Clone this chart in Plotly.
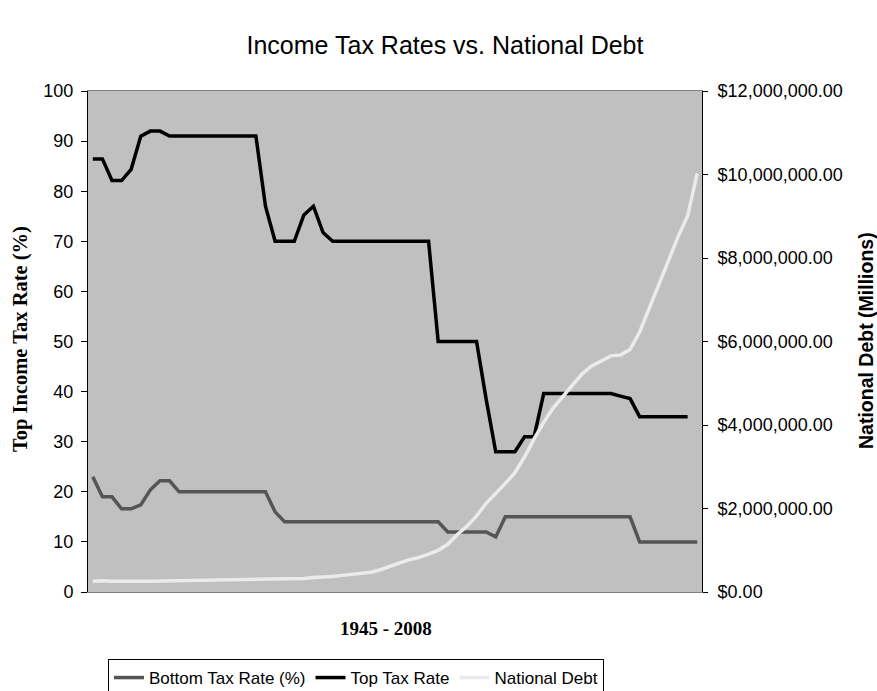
import plotly.graph_objects as go

years = [str(y) for y in range(1945, 2009)]

bottom_rate = [23, 19, 19, 16.6, 16.6, 17.4, 20.4, 22.2, 22.2,
               20, 20, 20, 20, 20, 20, 20, 20, 20, 20,
               16,
               14, 14, 14, 14, 14, 14, 14, 14, 14, 14, 14, 14, 14, 14, 14, 14, 14,
               12, 12, 12, 12, 12,
               11,
               15, 15, 15, 15, 15, 15, 15, 15, 15, 15, 15, 15, 15, 15,
               10, 10, 10, 10, 10, 10, 10]

top_rate = [86.45, 86.45, 82.13, 82.13, 84.36, 91, 92, 92,
            91, 91, 91, 91, 91, 91, 91, 91, 91, 91,
            77, 70, 70, 70, 75.25, 77, 71.75,
            70, 70, 70, 70, 70, 70, 70, 70, 70, 70, 70,
            50, 50, 50, 50, 50,
            38.5, 28, 28, 28, 31, 31,
            39.6, 39.6, 39.6, 39.6, 39.6, 39.6, 39.6, 39.6,
            39.1, 38.6,
            35, 35, 35, 35, 35, 35]

national_debt = [258682, 269422, 258286, 252292, 252770, 257357, 255222, 259105,
                 266071, 271260, 274374, 272751, 270527, 276343, 284706, 286331,
                 288971, 298201, 305860, 311713, 317274, 319907, 326221, 347578,
                 353720, 370919, 398130, 427260, 458142, 475060, 533189, 620433,
                 698840, 771544, 826519, 907701, 997855, 1142034, 1377210, 1572266,
                 1823103, 2125302, 2350277, 2602338, 2857431, 3233313, 3665303, 4064621,
                 4411489, 4692750, 4973983, 5224811, 5413146, 5526193, 5656271, 5674178,
                 5807463, 6228236, 6783231, 7379053, 7932710, 8506974, 9007653, 10024725]

W, H = 877, 691
PL, PR, PT, PB = 88, 702, 91, 592  # plot area in page pixels
ML, MR, MT, MB = PL, W - PR, PT, H - PB
PW, PH = PR - PL, PB - PT


def cx(px):
    return px / W


def cy(py):
    return 1 - py / H


def px_(px):
    return (px - PL) / PW


def py_(py):
    return (PB - py) / PH


fig = go.Figure()
fig.add_trace(go.Scatter(x=years, y=bottom_rate, name="Bottom Tax Rate (%)", mode="lines",
                         line=dict(color="#555555", width=3.5)))
fig.add_trace(go.Scatter(x=years[:len(top_rate)], y=top_rate, name="Top Tax Rate", mode="lines",
                         line=dict(color="#000000", width=3.5)))
fig.add_trace(go.Scatter(x=years, y=national_debt, name="National Debt", mode="lines",
                         line=dict(color="#EBEBEB", width=3.5), yaxis="y2"))

tick_font = dict(family="Liberation Sans, Arial", size=18, color="#000000")

fig.update_layout(
    width=W, height=H,
    margin=dict(l=ML, r=MR, t=MT, b=MB),
    paper_bgcolor="white", plot_bgcolor="#C0C0C0",
    title=dict(text="Income Tax Rates vs. National Debt", x=cx(445), xanchor="center",
               y=cy(45), yanchor="middle",
               font=dict(family="Liberation Sans, Arial", size=25, color="#000000")),
    xaxis=dict(type="category", range=[-0.5, 63.5], showticklabels=False, ticks="",
               showgrid=False, showline=True, linecolor="#808080", linewidth=1, mirror=True,
               zeroline=False, automargin=False),
    yaxis=dict(range=[0, 100], dtick=10, ticks="outside", ticklen=6, tickcolor="#000000",
               showgrid=False, showline=True, linecolor="#000000", linewidth=1,
               zeroline=False, tickfont=tick_font, automargin=False, ticklabelstandoff=4),
    yaxis2=dict(range=[0, 12000000], dtick=2000000, overlaying="y", side="right",
                tickformat="$,.2f", ticks="outside", ticklen=5, tickcolor="#000000",
                showgrid=False, showline=True, linecolor="#000000", linewidth=1,
                zeroline=False, tickfont=tick_font, automargin=False, ticklabelstandoff=6),
    showlegend=True,
    legend=dict(orientation="h", x=cx(356), xanchor="center", xref="container",
                y=cy(659), yanchor="top", yref="container",
                bordercolor="#000000", borderwidth=1, bgcolor="white",
                font=dict(family="Liberation Sans, Arial", size=17, color="#000000"),
                itemwidth=30, tracegroupgap=0, traceorder="normal"),
    annotations=[
        dict(text="<b>1945 - 2008</b>", xref="paper", yref="paper", x=px_(386), y=py_(628),
             xanchor="center", yanchor="middle", showarrow=False,
             font=dict(family="Liberation Serif, Times New Roman", size=19, color="#000000")),
        dict(text="<b>Top Income Tax Rate (%)</b>", xref="paper", yref="paper",
             x=px_(20), y=py_(339), xanchor="center", yanchor="middle",
             textangle=-90, showarrow=False,
             font=dict(family="Liberation Serif, Times New Roman", size=20.5, color="#000000")),
        dict(text="<b>National Debt (Millions)</b>", xref="paper", yref="paper",
             x=px_(866), y=py_(340), xanchor="center", yanchor="middle",
             textangle=-90, showarrow=False,
             font=dict(family="Liberation Sans, Arial", size=19.5, color="#000000")),
    ],
)

fig.write_html("out.html", config={"displayModeBar": False},
               post_script="document.body.style.margin='0';document.body.style.overflow='hidden';")
